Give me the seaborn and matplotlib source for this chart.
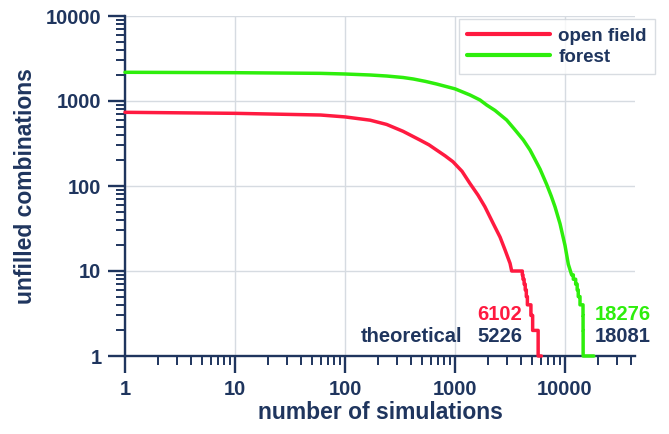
import numpy as np
import pandas as pd
import matplotlib
matplotlib.use("Agg")
import matplotlib.pyplot as plt
import seaborn as sns
from matplotlib.ticker import FixedLocator, FixedFormatter, LogLocator, NullFormatter

# ---------------- data ----------------
red_n = [1, 10, 60, 100, 169, 239, 337, 479, 580, 680, 811, 958, 1158, 1368, 1620, 1870,
         2230, 2570, 2850, 3165, 3275]
red_v = [736, 716, 684, 650, 595, 530, 440, 348, 305, 265, 227, 193, 149, 107, 78, 57,
         36, 25, 17.7, 12.3, 10]
red_tail_n = [3275, 4090, 4150, 4250, 4350, 4450, 4550, 4900, 5080, 5700, 6102]
red_tail_v = [10, 9, 8, 7, 6, 5, 4, 3, 2, 1, 1]

green_n = [1, 10, 60, 100, 169, 239, 337, 418, 540, 680, 1000, 1368, 1687, 1940, 2310, 2950,
           3500, 4180, 4810, 5340, 5930, 6820, 7500, 8110, 9010, 10000, 10720, 11490]
green_v = [2177, 2153, 2115, 2078, 2023, 1968, 1890, 1815, 1700, 1585, 1390, 1177, 1028, 897, 775, 597,
           460, 348, 265, 205, 158, 104, 76, 57, 36, 20, 12, 9]
green_tail_n = [11490, 11900, 12500, 12900, 13200, 13690, 14580, 14600, 14620, 18276]
green_tail_v = [9, 8, 7, 6, 5, 4, 3, 2, 1, 1]

series_labels = ["open field", "forest"]
x_ticks = [1, 10, 100, 1000, 10000]
x_tick_labels = ["1", "10", "100", "1000", "10000"]
y_ticks = [1, 10, 100, 1000, 10000]
y_tick_labels = ["1", "10", "100", "1000", "10000"]
simulated_full = ["6102", "18276"]
theoretical_full = ["5226", "18081"]
theory_label = "theoretical"

# ---------------- style ----------------
RED = "#ff1a40"
GREEN = "#2eee0c"
NAVY = "#1f355e"
GRID = "#d6dbe1"

sns.set_theme(style="white")
plt.rcParams["font.family"] = ["Liberation Sans", "DejaVu Sans"]
plt.rcParams["font.weight"] = "bold"


def staircase(n, v):
    xs, ys = [n[0]], [v[0]]
    for i in range(1, len(n)):
        xs += [n[i], n[i]]
        ys += [v[i - 1], v[i]]
    return xs, ys


def full_curve(n, v, tn, tv):
    sx, sy = staircase(tn, tv)
    return list(n) + sx[1:], list(v) + sy[1:]


fig = plt.figure(figsize=(6.69, 4.34), dpi=100)
ax = fig.add_axes([125 / 669, 78 / 434, 510 / 669, 340 / 434])

rx, ry = full_curve(red_n, red_v, red_tail_n, red_tail_v)
gx, gy = full_curve(green_n, green_v, green_tail_n, green_tail_v)
df_red = pd.DataFrame({"n": rx, "v": ry})
df_green = pd.DataFrame({"n": gx, "v": gy})

sns.lineplot(data=df_red, x="n", y="v", ax=ax, color=RED, linewidth=2.5, sort=False,
             estimator=None, label=series_labels[0], legend=False, clip_on=False, zorder=4)
sns.lineplot(data=df_green, x="n", y="v", ax=ax, color=GREEN, linewidth=2.5, sort=False,
             estimator=None, label=series_labels[1], legend=False, clip_on=False, zorder=4)

ax.set_xscale("log")
ax.set_yscale("log")
ax.set_xlim(1, 10 ** (510 / 110))
ax.set_ylim(1, 10000)

for a in (ax.xaxis, ax.yaxis):
    a.set_minor_locator(LogLocator(base=10, subs=np.arange(2, 10)))
    a.set_minor_formatter(NullFormatter())
ax.xaxis.set_major_locator(FixedLocator(x_ticks))
ax.xaxis.set_major_formatter(FixedFormatter(x_tick_labels))
ax.yaxis.set_major_locator(FixedLocator(y_ticks))
ax.yaxis.set_major_formatter(FixedFormatter(y_tick_labels))

ax.grid(True, which="major", color=GRID, linewidth=1.0)
ax.grid(False, which="minor")
ax.set_axisbelow(True)

for s in ("top", "right"):
    ax.spines[s].set_visible(False)
for s in ("left", "bottom"):
    ax.spines[s].set_color(NAVY)
    ax.spines[s].set_linewidth(1.7)
    ax.spines[s].set_zorder(3)

ax.tick_params(which="major", direction="out", length=12, width=1.7, color=NAVY,
               labelsize=14.5, labelcolor=NAVY, bottom=True, left=True)
ax.tick_params(axis="y", which="major", pad=5)
ax.tick_params(axis="x", which="major", pad=5)
ax.tick_params(which="minor", direction="out", length=6.5, width=1.4, color=NAVY,
               bottom=True, left=True)
for lab in ax.get_xticklabels() + ax.get_yticklabels():
    lab.set_fontweight("bold")

ax.set_xlabel("number of simulations", fontsize=16.5, fontweight="bold", color=NAVY, labelpad=2)
ax.set_ylabel("unfilled combinations", fontsize=16.5, fontweight="bold", color=NAVY, labelpad=6)

leg = ax.legend(handles=ax.lines[:2], labels=series_labels, loc="upper left",
                bbox_to_anchor=(0.655, 0.99), fontsize=13.5, frameon=True, fancybox=False,
                handlelength=4.4, handletextpad=0.45, labelspacing=0.2, borderpad=0.45,
                borderaxespad=0)
leg.get_frame().set_edgecolor("#cfd4da")
leg.get_frame().set_linewidth(1.0)
for t in leg.get_texts():
    t.set_color(NAVY)
    t.set_fontweight("bold")
for h in leg.get_lines():
    h.set_linewidth(3)
leg.set_zorder(5)


# annotations (positions in axes fractions)
def fx(px):
    return (px - 125) / 510


def fy(py):
    return (356 - py) / 340


ax.text(fx(522), fy(315), simulated_full[0], color=RED, fontsize=14.5, fontweight="bold",
        ha="right", va="center", transform=ax.transAxes)
ax.text(fx(522), fy(337), theoretical_full[0], color=NAVY, fontsize=14.5, fontweight="bold",
        ha="right", va="center", transform=ax.transAxes)
ax.text(fx(462), fy(337), theory_label, color=NAVY, fontsize=14.5, fontweight="bold",
        ha="right", va="center", transform=ax.transAxes)
ax.text(fx(595), fy(315), simulated_full[1], color=GREEN, fontsize=14.5, fontweight="bold",
        ha="left", va="center", transform=ax.transAxes, clip_on=False)
ax.text(fx(595), fy(337), theoretical_full[1], color=NAVY, fontsize=14.5, fontweight="bold",
        ha="left", va="center", transform=ax.transAxes, clip_on=False)

fig.savefig("out.png", dpi=100)
